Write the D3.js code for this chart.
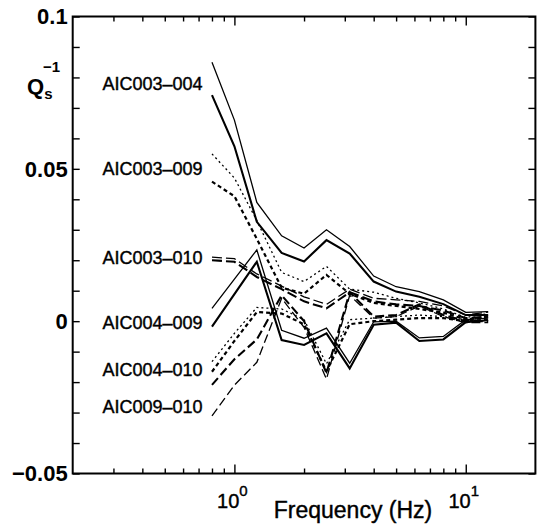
<!DOCTYPE html>
<html>
<head>
<meta charset="utf-8">
<script src="https://cdn.jsdelivr.net/npm/d3@7"></script>
<style>
  body { margin: 0; background: #fff; }
  text { font-family: Arial, "Liberation Sans", Helvetica, sans-serif; fill: #000; }
</style>
</head>
<body>
<svg id="chart"></svg>
<script>
// frequencies (Hz), third-octave bands
const freqs = [0.8, 1, 1.25, 1.6, 2, 2.5, 3.15, 4, 5, 6.3, 8, 10, 12.5];

// each station pair has two curves
const aic003_004_a = [0.085, 0.066, 0.039, 0.028, 0.024, 0.030, 0.0245, 0.0148, 0.0113, 0.0097, 0.007, 0.0029, 0.0031];
const aic003_004_b = [0.0742, 0.0574, 0.0326, 0.0224, 0.0196, 0.0266, 0.0222, 0.013, 0.0097, 0.008, 0.0056, 0.002, 0.002];
const aic003_009_a = [0.0549, 0.047, 0.033, 0.016, 0.013, 0.018, 0.0105, 0.0095, 0.0075, 0.006, 0.004, 0.0012, 0.0025];
const aic003_009_b = [0.0458, 0.041, 0.027, 0.011, 0.009, 0.0152, 0.009, 0.006, 0.005, 0.004, 0.0028, 0.0005, 0.0015];
const aic003_010_a = [0.021, 0.0205, 0.0155, 0.0115, 0.008, 0.0055, 0.0105, 0.0075, 0.007, 0.0065, 0.005, 0.002, 0.003];
const aic003_010_b = [0.020, 0.0195, 0.0145, 0.0105, 0.0065, 0.0042, 0.0095, 0.0065, 0.0055, 0.005, 0.0035, 0.001, 0.0015];
const aic004_009_a = [0.0042, 0.0138, 0.0234, -0.003, -0.0056, -0.0023, -0.0138, -0.0002, 0.0, -0.0055, -0.005, 0.0005, 0.001];
const aic004_009_b = [-0.0018, 0.0089, 0.0195, -0.0062, -0.0078, -0.004, -0.0155, -0.0012, -0.0005, -0.0065, -0.006, -0.0003, 0.0003];
const aic004_010_a = [-0.0133, -0.004, 0.0045, 0.004, 0.0005, -0.014, 0.0005, 0.001, 0.0015, 0.002, 0.0015, 0.0005, 0.0012];
const aic004_010_b = [-0.0166, -0.0065, 0.003, 0.0025, -0.001, -0.0165, -0.001, 0.0, 0.0005, 0.001, 0.001, 0.0, 0.0005];
const aic009_010_a = [-0.0209, -0.0125, -0.006, 0.0085, 0.0, -0.017, 0.0095, 0.0015, 0.002, 0.0055, 0.002, 0.0, 0.0];
const aic009_010_b = [-0.0311, -0.021, -0.0135, 0.0075, -0.002, -0.019, 0.0085, 0.001, 0.0015, 0.005, 0.0015, -0.0005, -0.0005];

const pairNames = ['AIC003–004', 'AIC003–009', 'AIC003–010', 'AIC004–009', 'AIC004–010', 'AIC009–010'];
const labelValues = [0.078, 0.0502, 0.021, -0.0005, -0.016, -0.028];

const yTickLabels = [0.1, 0.05, 0, -0.05];
const xTickLabels = [1, 10];

const width = 542, height = 529;
const svg = d3.select('#chart').attr('width', width).attr('height', height);

const x = d3.scaleLog().domain([0.2, 20]).range([72.7, 535.4]);
const y = d3.scaleLinear().domain([-0.05, 0.1]).range([473.5, 16.5]);

// curves: [values, dash, stroke width]
const curves = [
  [aic003_004_a, null, 1.3], [aic003_004_b, null, 2.1],
  [aic003_009_a, '2,3', 1.3], [aic003_009_b, '4,3', 2.2],
  [aic003_010_a, '10,4', 1.3], [aic003_010_b, '10,4', 2.1],
  [aic004_009_a, null, 1.3], [aic004_009_b, null, 2.1],
  [aic004_010_a, '2,3', 1.3], [aic004_010_b, '4,3', 2.2],
  [aic009_010_a, '9,4', 2.1], [aic009_010_b, '9,4', 1.3]
];

const line = d3.line().x((d, i) => x(freqs[i])).y(d => y(d));

svg.append('g').selectAll('path')
  .data(curves)
  .enter().append('path')
  .attr('d', d => line(d[0]))
  .attr('fill', 'none')
  .attr('stroke', '#000')
  .attr('stroke-width', d => d[2])
  .attr('stroke-dasharray', d => d[1]);

// frame
const [x0, x1] = x.range();
const [yb, yt] = y.range();
svg.append('rect')
  .attr('x', x0).attr('y', yt)
  .attr('width', x1 - x0).attr('height', yb - yt)
  .attr('fill', 'none').attr('stroke', '#000').attr('stroke-width', 2);

// y ticks every 0.01, inward on both sides
const yTicks = d3.range(-5, 11).map(k => k / 100);
svg.append('g').attr('transform', `translate(${x0},0)`)
  .call(d3.axisLeft(y).tickValues(yTicks).tickSize(-7).tickFormat(''))
  .call(g => g.select('.domain').remove());
svg.append('g').attr('transform', `translate(${x1},0)`)
  .call(d3.axisRight(y).tickValues(yTicks).tickSize(-7).tickFormat(''))
  .call(g => g.select('.domain').remove());

// x ticks: minor and decade
const minor = [];
[0.1, 1, 10].forEach(dec => {
  for (let m = 2; m <= 9; m++) {
    const v = dec * m;
    if (v > 0.2 && v < 20) minor.push(v);
  }
});
[[yb, d3.axisBottom], [yt, d3.axisTop]].forEach(([pos, ax]) => {
  svg.append('g').attr('transform', `translate(0,${pos})`)
    .call(ax(x).tickValues(minor).tickSize(-5).tickFormat(''))
    .call(g => g.select('.domain').remove());
  svg.append('g').attr('transform', `translate(0,${pos})`)
    .call(ax(x).tickValues(xTickLabels).tickSize(-9).tickFormat(''))
    .call(g => g.select('.domain').remove());
});
svg.selectAll('.tick line').attr('stroke', '#000').attr('stroke-width', 1.4);

// y tick labels
svg.append('g').selectAll('text')
  .data(yTickLabels)
  .enter().append('text')
  .attr('x', x0 - 5)
  .attr('y', d => y(d))
  .attr('dy', '0.36em')
  .attr('text-anchor', 'end')
  .style('font-size', '22px')
  .style('font-weight', 'bold')
  .text(d => d === 0 ? '0' : (d < 0 ? '−' : '') + String(Math.abs(d)));

// x tick labels 10^n
const xl = svg.append('g').selectAll('text')
  .data(xTickLabels)
  .enter().append('text')
  .attr('x', d => x(d) - 2)
  .attr('y', 508)
  .attr('text-anchor', 'middle')
  .style('font-size', '20px')
  .style('stroke', '#000').style('stroke-width', 0.4);
xl.append('tspan').text('10');
xl.append('tspan').attr('dy', -12).style('font-size', '15px').text(d => Math.round(Math.log10(d)));

// x axis title
svg.append('text')
  .attr('x', 353).attr('y', 518)
  .attr('text-anchor', 'middle')
  .style('font-size', '23px')
  .style('stroke', '#000').style('stroke-width', 0.4)
  .text('Frequency (Hz)');

// y axis title Qs^-1
const yl = svg.append('text').attr('x', 27).attr('y', 94)
  .style('font-size', '22px').style('font-weight', 'bold');
yl.append('tspan').text('Q');
yl.append('tspan').attr('dy', 5).style('font-size', '15px').text('s');
yl.append('tspan').attr('x', 43).attr('dy', -27).style('font-size', '15px').text('−1');

// pair labels
svg.append('g').selectAll('text')
  .data(pairNames)
  .enter().append('text')
  .attr('x', x(freqs[0]) - 9.5)
  .attr('y', (d, i) => y(labelValues[i]))
  .attr('dy', '0.36em')
  .attr('text-anchor', 'end')
  .style('font-size', '18px')
  .style('stroke', '#000').style('stroke-width', 0.4)
  .text(d => d);
</script>
</body>
</html>
